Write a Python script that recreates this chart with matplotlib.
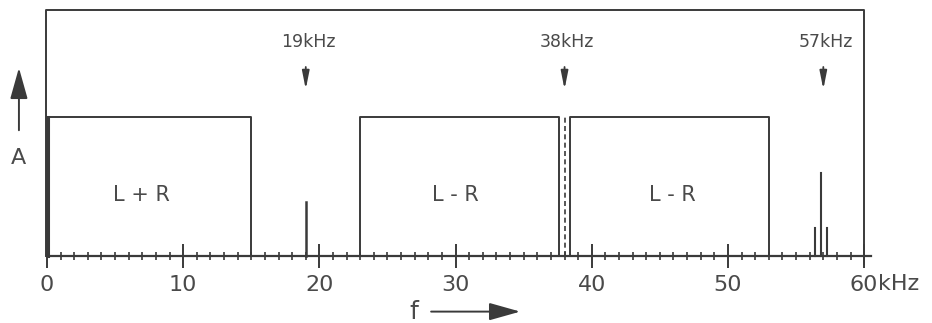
import matplotlib.pyplot as plt

# Data
freq_ticks = [0, 10, 20, 30, 40, 50, 60]
tick_labels = ['0', '10', '20', '30', '40', '50', '60']
band_names = ['L + R', 'L - R', 'L - R']
band_start = [0, 23, 38.4]
band_end = [15, 37.6, 53]
band_level = [1.0, 1.0, 1.0]
band_label_x = [6.9, 30.0, 45.9]
carrier_freqs = [19, 38, 57]
carrier_labels = ['19kHz', '38kHz', '57kHz']
pilot_freq = 19
pilot_amp = 0.39
subcarrier_freq = 38
rds_freqs = [56.4, 56.8, 57.3]
rds_amps = [0.2, 0.6, 0.2]

line_c = '#3a3a3a'
text_c = '#4a4a4a'

fig = plt.figure(figsize=(9.32, 3.23), dpi=100)
ax = fig.add_axes([0, 0, 1, 1])
ax.set_xlim(-3.45, 64.98)
ax.set_ylim(-0.482, 1.842)

# outer frame
ax.plot([-0.05, -0.05, 60, 60], [0, 1.77, 1.77, -0.06], color=line_c, lw=1.4)

# bands
for s, e, h, name, lx in zip(band_start, band_end, band_level, band_names, band_label_x):
    ax.plot([s, s, e, e], [0, h, h, 0], color=line_c, lw=1.4)
    ax.text(lx, 0.44, name, ha='center', va='center', fontsize=15, color=text_c)
ax.plot([0.1, 0.1], [0, 1.0], color=line_c, lw=2.2)

# 38 kHz suppressed carrier (dashed)
ax.plot([subcarrier_freq, subcarrier_freq], [0, 1.0], color=line_c, lw=1.2, ls=(0, (3, 2)))

# pilot tone
ax.plot([pilot_freq, pilot_freq], [0, pilot_amp], color=line_c, lw=1.8)

# 57 kHz lines
for f, a in zip(rds_freqs, rds_amps):
    ax.plot([f, f], [0, a], color=line_c, lw=1.5)

# carrier markers
for f, lab in zip(carrier_freqs, carrier_labels):
    ax.annotate('', xy=(f, 1.18), xytext=(f, 1.38),
                arrowprops=dict(arrowstyle='-|>,head_length=0.9,head_width=0.18',
                                color=line_c, lw=1.3, mutation_scale=12))
    ax.text(f + 0.2, 1.54, lab, ha='center', va='center', fontsize=12.5, color=text_c)

# x axis
for sp in ['top', 'left', 'right']:
    ax.spines[sp].set_visible(False)
ax.spines['bottom'].set_position(('data', 0))
ax.spines['bottom'].set_bounds(0, 60.5)
ax.spines['bottom'].set_color(line_c)
ax.spines['bottom'].set_linewidth(1.6)
ax.set_xticks(freq_ticks)
ax.set_xticklabels(tick_labels)
ax.set_xticks(range(0, 61), minor=True)
ax.tick_params(axis='x', which='major', length=0,
               labelcolor=text_c, labelsize=16, pad=14)
ax.tick_params(axis='x', which='minor', direction='inout', length=6, width=1.2, colors=line_c)
ax.vlines(freq_ticks, -0.085, 0.085, color=line_c, lw=1.4, zorder=5)
ax.set_yticks([])
ax.text(61.0, -0.2, 'kHz', ha='left', va='center', fontsize=16, color=text_c)

# axis names with arrows
ax.annotate('', xy=(-2.06, 1.374), xytext=(-2.06, 0.885),
            arrowprops=dict(arrowstyle='-|>,head_length=1.6,head_width=0.45',
                            color=line_c, lw=1.4, mutation_scale=12))
ax.text(-2.06, 0.705, 'A', ha='center', va='center', fontsize=16, color=text_c)
ax.text(26.9, -0.4, 'f', ha='center', va='center', fontsize=18, color=text_c)
ax.annotate('', xy=(34.95, -0.40), xytext=(28.0, -0.40),
            arrowprops=dict(arrowstyle='-|>,head_length=1.6,head_width=0.45',
                            color=line_c, lw=1.4, mutation_scale=12))

fig.savefig('out.png', dpi=100)
